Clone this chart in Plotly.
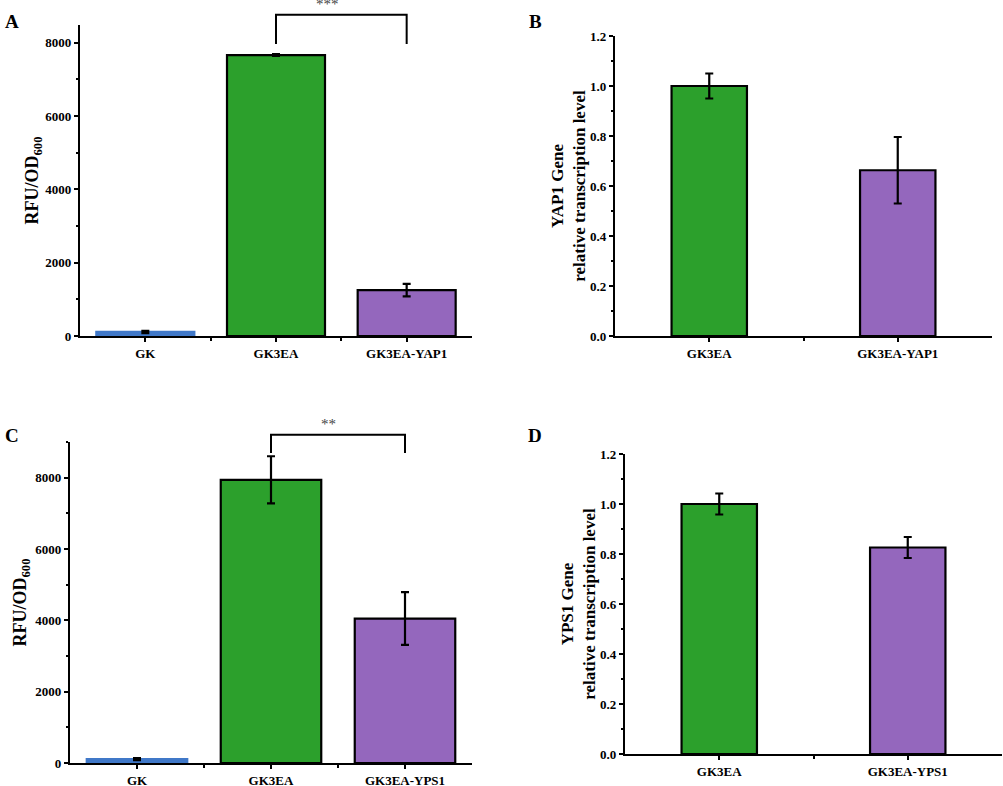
import plotly.graph_objects as go

# panel A / C : fluorescence (RFU/OD600)
catsA = ["GK", "GK3EA", "GK3EA-YAP1"]
rfuA = [110, 7660, 1250]
rfuA_err = [30, 25, 170]

catsC = ["GK", "GK3EA", "GK3EA-YPS1"]
rfuC = [110, 7940, 4050]
rfuC_err = [30, 660, 740]

# panel B / D : relative transcription level
catsB = ["GK3EA", "GK3EA-YAP1"]
relB = [1.0, 0.663]
relB_err = [0.05, 0.133]

catsD = ["GK3EA", "GK3EA-YPS1"]
relD = [1.0, 0.826]
relD_err = [0.042, 0.042]

# significance brackets (label, bracket height, leg ends)
sigA = ("***", 8760, 7960)
sigC = ("**", 9200, 8690)

cols3 = ["#4078c8", "#2ca02c", "#9467bd"]
cols2 = ["#2ca02c", "#9467bd"]
FONT = "Liberation Serif, Times New Roman, serif"

fig = go.Figure()

def bars(cats, vals, errs, colors, xa, ya, w):
    fig.add_trace(go.Bar(
        x=cats, y=vals, xaxis=xa, yaxis=ya, width=w,
        marker=dict(color=colors,
                    line=dict(color=["#4078c8" if c == "#4078c8" else "black" for c in colors], width=2.2)),
        error_y=dict(type="data", array=errs, color="black", thickness=2.2, width=4),
        showlegend=False))

bars(catsA, rfuA, rfuA_err, cols3, "x", "y", 0.75)
bars(catsB, relB, relB_err, cols2, "x2", "y2", 0.40)
bars(catsC, rfuC, rfuC_err, cols3, "x3", "y3", 0.75)
bars(catsD, relD, relD_err, cols2, "x4", "y4", 0.40)

W, H = 1003, 786
def dom(a, b): return [a / W, b / W]
def vdom(top, bot): return [1 - bot / H, 1 - top / H]

def xax(d, anchor, n):
    return dict(domain=d, anchor=anchor, range=[-0.5, n - 0.5], showline=True, linecolor="black",
                linewidth=2.2, ticks="outside", ticklen=4, tickwidth=2, tickcolor="black",
                tickfont=dict(family=FONT, size=13, color="black", weight="bold"),
                showgrid=False, zeroline=False, automargin=False,
                minor=dict(ticks="outside", ticklen=3, tickwidth=1.5, tickcolor="black",
                           tickvals=[i + 0.5 for i in range(n - 1)]))

def yax(d, anchor, rng, dt, fmt, title, tsize, standoff):
    return dict(domain=d, anchor=anchor, range=rng, showline=True, linecolor="black", linewidth=2.2,
                ticks="outside", ticklen=4, tickwidth=2, tickcolor="black", dtick=dt, tick0=0,
                tickformat=fmt, tickfont=dict(family=FONT, size=13, color="black", weight="bold"),
                showgrid=False, zeroline=False, automargin=False,
                minor=dict(ticks="outside", ticklen=2, tickwidth=1.5, tickcolor="black", dtick=dt / 2),
                title=dict(text=title, font=dict(family=FONT, size=tsize, color="black", weight="bold"),
                           standoff=standoff))

titleRFU = "RFU/OD<sub>600</sub>"
titleB = "YAP1 Gene<br>relative transcription level"
titleD = "YPS1 Gene<br>relative transcription level"

fig.update_layout(
    width=W, height=H, margin=dict(l=0, r=0, t=0, b=0, autoexpand=False),
    paper_bgcolor="white", plot_bgcolor="white",
    font=dict(family=FONT, color="black"),
    xaxis=xax(dom(80, 472), "y", 3),
    yaxis=yax(vdom(25, 336), "x", [0, 8480], 2000, "d", titleRFU, 18, 2),
    xaxis2=xax(dom(615, 992), "y2", 2),
    yaxis2=yax(vdom(36, 336), "x2", [0, 1.2], 0.2, ".1f", titleB, 17, 0),
    xaxis3=xax(dom(70, 472), "y3", 3),
    yaxis3=yax(vdom(442, 763), "x3", [0, 9000], 2000, "d", titleRFU, 18, 4),
    xaxis4=xax(dom(625, 1002), "y4", 2),
    yaxis4=yax(vdom(454, 754), "x4", [0, 1.2], 0.2, ".1f", titleD, 17, 0),
)

# significance brackets drawn in domain coordinates so they are not clipped
def bracket(sig, xa, ya, ymax, i0, i1, n):
    label, top, leg = sig
    x0, x1 = (i0 + 0.5) / n, (i1 + 0.5) / n
    yt, yl = top / ymax, leg / ymax
    fig.add_shape(type="path", xref=xa + " domain", yref=ya + " domain",
                  path=f"M {x0} {yl} L {x0} {yt} L {x1} {yt} L {x1} {yl}",
                  line=dict(color="black", width=2))
    fig.add_annotation(text=label, xref=xa + " domain", yref=ya + " domain",
                       x=(x0 + x1) / 2, y=yt, yanchor="bottom", showarrow=False, yshift=1,
                       font=dict(family=FONT, size=15, color="#444"))

bracket(sigA, "x", "y", 8480, 1, 2, 3)
bracket(sigC, "x3", "y3", 9000, 1, 2, 3)

# panel letters
for lab, px_, py_ in (("A", 12, 22), ("B", 535, 22), ("C", 12, 436), ("D", 535, 436)):
    fig.add_annotation(text=lab, xref="paper", yref="paper", x=px_ / W, y=1 - py_ / H,
                       showarrow=False, xanchor="center", yanchor="middle",
                       font=dict(family=FONT, size=19, color="black", weight="bold"))

# the page's default body margin would push the figure 8px down/right
fig.write_html("out.html", config={"displayModeBar": False},
               post_script="document.body.style.margin='0';")
